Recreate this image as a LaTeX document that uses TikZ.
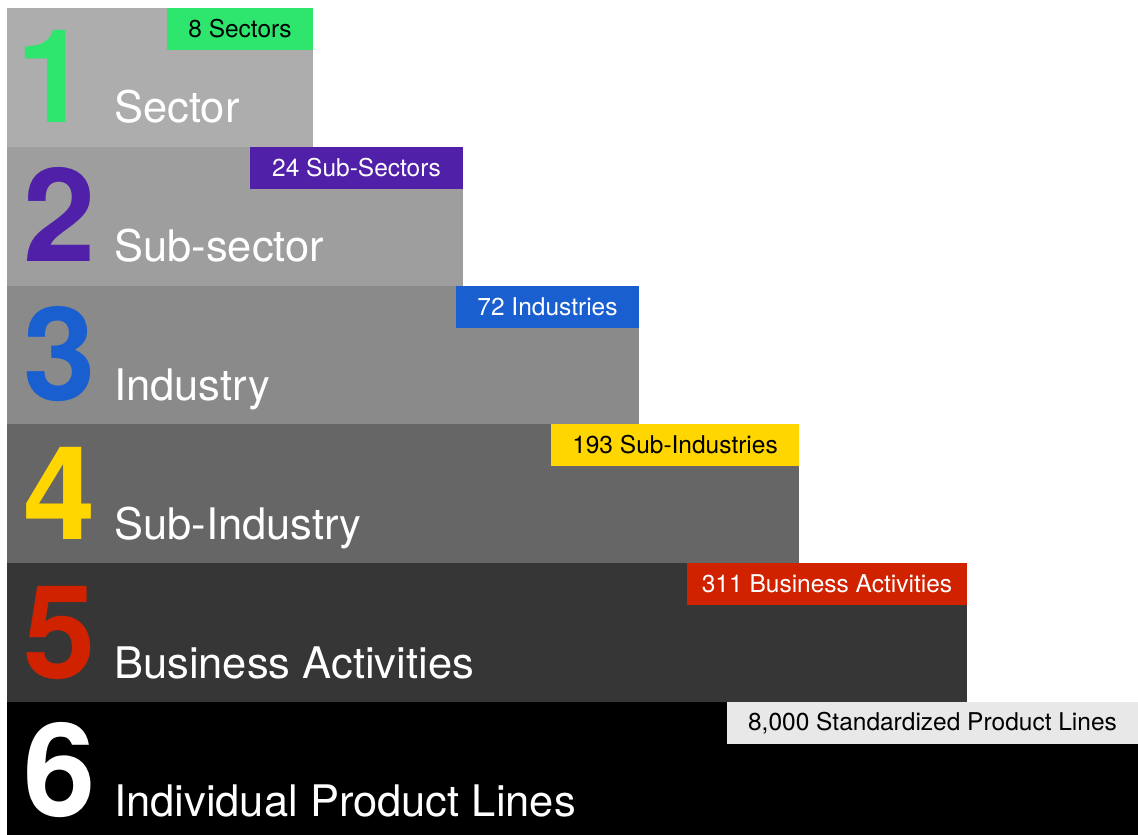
\documentclass[tikz,border=0pt]{standalone}
\usepackage{fontspec}
\setmainfont{TeX Gyre Heros}
\definecolor{gA}{HTML}{ADADAD}
\definecolor{gB}{HTML}{9E9E9E}
\definecolor{gC}{HTML}{8A8A8A}
\definecolor{gD}{HTML}{666666}
\definecolor{gE}{HTML}{363636}
\definecolor{gF}{HTML}{000000}
\definecolor{cA}{HTML}{2EE66E}
\definecolor{cB}{HTML}{5020A8}
\definecolor{cC}{HTML}{1A5FD0}
\definecolor{cD}{HTML}{FFD600}
\definecolor{cE}{HTML}{D12200}
\definecolor{cF}{HTML}{E8E8E8}
\tikzset{
  tag/.style={text=#1, inner sep=0pt, font=\fontsize{24.5}{28}\selectfont},
  digit/.style={text=#1, anchor=base west, inner sep=0pt, text depth=0pt, font=\fontsize{130}{130}\selectfont\bfseries},
  title/.style={text=white, anchor=base west, inner sep=0pt, text depth=0pt, font=\fontsize{43.5}{48}\selectfont},
}
\begin{document}
\begin{tikzpicture}[x=1pt,y=-1pt]
\useasboundingbox (0,0) rectangle (1138,835);
% bars
\fill[gA] (7,8) rectangle (313,147);
\fill[gB] (7,147) rectangle (463,286);
\fill[gC] (7,286) rectangle (639,424);
\fill[gD] (7,424) rectangle (799,563);
\fill[gE] (7,563) rectangle (967,702);
\fill[gF] (7,702) rectangle (1138,835);
% tags
\fill[cA] (167,8) rectangle (313,50);
\node[tag=black] (t1) at (240,29) {8 Sectors};
\fill[cB] (250,147) rectangle (463,189);
\node[tag=white] (t2) at (356.5,168) {24 Sub-Sectors};
\fill[cC] (456,286) rectangle (639,328);
\node[tag=white] (t3) at (547.5,307) {72 Industries};
\fill[cD] (551,424) rectangle (799,466);
\node[tag=black] (t4) at (675,445) {193 Sub-Industries};
\fill[cE] (687,563) rectangle (967,605);
\node[tag=white] (t5) at (827,584) {311 Business Activities};
\fill[cF] (727,702) rectangle (1138,744);
\node[tag=black] (t6) at (932.5,723) {8,000 Standardized Product Lines};
% digits
\node[digit=cA] (d1) at (16,122) {1};
\node[digit=cB] (d2) at (23,261) {2};
\node[digit=cC] (d3) at (23,400) {3};
\node[digit=cD] (d4) at (23,539) {4};
\node[digit=cE] (d5) at (23,678) {5};
\node[digit=white] (d6) at (23,816) {6};
% titles
\node[title] (n1) at (114,122) {Sector};
\node[title] (n2) at (114,261) {Sub-sector};
\node[title] (n3) at (114,400) {Industry};
\node[title] (n4) at (114,539) {Sub-Industry};
\node[title] (n5) at (114,678) {Business Activities};
\node[title] (n6) at (114,816) {Individual Product Lines};
\end{tikzpicture}
\end{document}
